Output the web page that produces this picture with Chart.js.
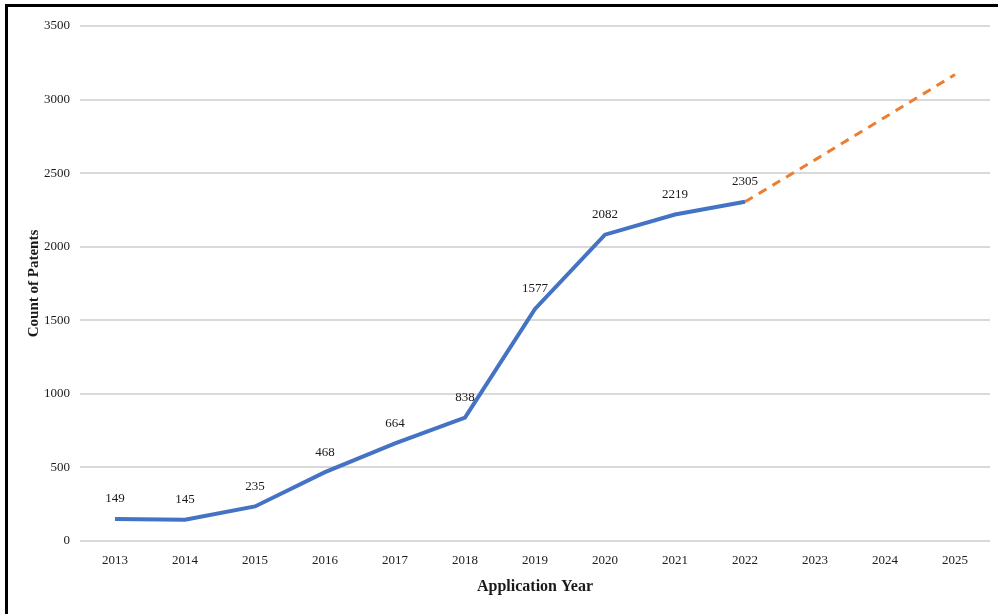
<!DOCTYPE html>
<html>
<head>
<meta charset="utf-8">
<script src="https://cdn.jsdelivr.net/npm/chart.js@4/dist/chart.umd.min.js"></script>
<style>
  html, body { margin: 0; padding: 0; background: #fff; }
  #wrap { position: relative; width: 998px; height: 614px; overflow: hidden; }
  #frame { position: absolute; left: 5px; top: 4px; width: 1000px; height: 700px;
           border-left: 3px solid #000; border-top: 3px solid #000; box-sizing: border-box; }
  canvas { position: absolute; left: 0; top: 0; }
</style>
</head>
<body>
<div id="wrap">
  <div id="frame"></div>
  <canvas id="chart" width="998" height="614"></canvas>
</div>
<script>
// Patent filings by application year, with a projected trend
const years = ['2013','2014','2015','2016','2017','2018','2019','2020','2021','2022','2023','2024','2025'];
const patentCounts = [149, 145, 235, 468, 664, 838, 1577, 2082, 2219, 2305, null, null, null];
const projectedCounts = [null, null, null, null, null, null, null, null, null, 2305, 2590, 2880, 3170];
const yTicks = [0, 500, 1000, 1500, 2000, 2500, 3000, 3500];

const serif = "'Liberation Serif', 'Times New Roman', serif";

// Value labels above each actual point
const valueLabels = {
  id: 'valueLabels',
  afterDatasetsDraw(chart) {
    const ctx = chart.ctx;
    const meta = chart.getDatasetMeta(0);
    ctx.save();
    ctx.font = '13px ' + serif;
    ctx.fillStyle = '#1a1a1a';
    ctx.textAlign = 'center';
    ctx.textBaseline = 'middle';
    meta.data.forEach((pt, i) => {
      const v = patentCounts[i];
      if (v == null) return;
      ctx.fillText(String(v), pt.x, pt.y - 20);
    });
    ctx.restore();
  }
};

new Chart(document.getElementById('chart'), {
  type: 'line',
  data: {
    labels: years,
    datasets: [
      {
        label: 'Count of Patents',
        data: patentCounts,
        borderColor: '#4472C4',
        borderWidth: 4,
        pointRadius: 0,
        tension: 0,
        spanGaps: false
      },
      {
        label: 'Projection',
        data: projectedCounts,
        borderColor: '#ED7D31',
        borderWidth: 3,
        borderDash: [9, 7],
        pointRadius: 0,
        tension: 0,
        spanGaps: false
      }
    ]
  },
  options: {
    responsive: false,
    animation: false,
    layout: { padding: { left: 0, right: 8, top: 26, bottom: 0 } },
    plugins: {
      legend: { display: false },
      tooltip: { enabled: false }
    },
    scales: {
      x: {
        offset: true,
        grid: { display: false, drawTicks: false },
        border: { display: false },
        ticks: { color: '#1a1a1a', font: { family: serif, size: 13 }, padding: 12 },
        title: {
          display: true, text: 'Application Year', color: '#1a1a1a',
          font: { family: serif, size: 16, weight: 'bold' }, padding: { top: 4, bottom: 18 }
        },
        afterFit(scale) { scale.height = 73; }
      },
      y: {
        min: 0, max: 3500,
        afterBuildTicks(scale) { scale.ticks = yTicks.map(v => ({ value: v })); },
        grid: { color: '#d9d9d9', lineWidth: 2, drawTicks: false },
        border: { display: false },
        ticks: {
          color: '#1a1a1a', font: { family: serif, size: 13 }, padding: 10,
          callback: (v) => String(v)
        },
        title: {
          display: true, text: 'Count of Patents', color: '#1a1a1a',
          font: { family: serif, size: 15, weight: 'bold' }, padding: { top: 25, bottom: 0 }
        },
        afterFit(scale) { scale.width = 80; }
      }
    }
  },
  plugins: [valueLabels]
});
</script>
</body>
</html>
